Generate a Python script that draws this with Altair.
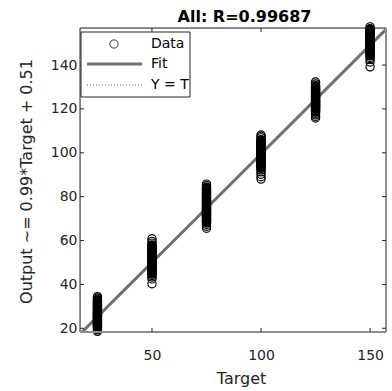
import altair as alt
import pandas as pd

# Regression of network outputs against targets (all samples)
targets = [25, 50, 75, 100, 125, 150]

out_25 = [18.6, 19.3, 19.9,
          20.4, 20.7, 20.9, 21.2, 21.4, 21.6, 21.9, 22.1, 22.3, 22.5, 22.8, 23.0,
          23.2, 23.4, 23.6, 23.8, 24.0, 24.2, 24.4, 24.6, 24.8, 25.0, 25.2, 25.4,
          25.6, 25.8, 26.0, 26.2, 26.4, 26.6, 26.8, 27.0, 27.2, 27.4, 27.6, 27.9,
          28.1, 28.3, 28.6, 28.8, 29.0, 29.3, 29.5, 29.8, 30.0, 30.3, 30.5, 30.8,
          31.1, 31.3, 31.6, 31.9, 32.2, 32.5, 32.8, 33.2,
          33.8, 34.4]
out_50 = [40.3, 42.5, 43.4, 44.1,
          44.7, 45.0, 45.3, 45.6, 45.8, 46.1, 46.3, 46.6, 46.8, 47.0, 47.2, 47.4,
          47.6, 47.8, 48.0, 48.2, 48.4, 48.6, 48.8, 49.0, 49.2, 49.4, 49.6, 49.8,
          50.0, 50.2, 50.4, 50.6, 50.8, 51.0, 51.2, 51.4, 51.6, 51.8, 52.0, 52.2,
          52.4, 52.7, 52.9, 53.1, 53.4, 53.6, 53.8, 54.1, 54.3, 54.6, 54.8, 55.1,
          55.4, 55.6, 55.9, 56.2, 56.5, 56.8, 57.1, 57.4, 57.7, 58.0,
          58.8, 59.6, 60.8]
out_75 = [65.6, 66.5, 67.3,
          68.0, 68.3, 68.6, 68.9, 69.1, 69.4, 69.6, 69.9, 70.1, 70.4, 70.6, 70.8,
          71.1, 71.3, 71.5, 71.7, 71.9, 72.1, 72.3, 72.5, 72.7, 72.9, 73.1, 73.3,
          73.5, 73.7, 73.9, 74.1, 74.3, 74.5, 74.7, 74.9, 75.1, 75.3, 75.5, 75.7,
          75.9, 76.1, 76.3, 76.6, 76.8, 77.0, 77.3, 77.5, 77.8, 78.0, 78.3, 78.5,
          78.8, 79.1, 79.3, 79.6, 79.9, 80.2, 80.5, 80.8, 81.1, 81.4, 81.7, 82.0,
          82.4, 82.7, 83.0, 83.3, 83.7, 84.0, 84.3,
          85.0, 85.7]
out_100 = [88.0, 89.1, 90.2, 91.3, 92.2,
           92.9, 93.2, 93.5, 93.8, 94.0, 94.3, 94.5, 94.8, 95.0, 95.2, 95.5, 95.7,
           95.9, 96.1, 96.3, 96.5, 96.7, 96.9, 97.1, 97.3, 97.5, 97.7, 97.9, 98.1,
           98.3, 98.5, 98.7, 98.9, 99.1, 99.3, 99.5, 99.7, 99.9, 100.1, 100.3,
           100.5, 100.7, 100.9, 101.1, 101.3, 101.5, 101.7, 101.9, 102.1, 102.4,
           102.6, 102.8, 103.1, 103.3, 103.6, 103.8, 104.1, 104.3, 104.6, 104.9,
           105.2, 105.5, 105.8, 106.0,
           106.8, 107.5, 108.1]
out_125 = [115.9, 116.6, 117.3, 118.0,
           118.6, 118.9, 119.2, 119.4, 119.7, 119.9, 120.2, 120.4, 120.6, 120.8,
           121.0, 121.2, 121.4, 121.6, 121.8, 122.0, 122.2, 122.4, 122.6, 122.8,
           123.0, 123.2, 123.4, 123.6, 123.8, 124.0, 124.2, 124.4, 124.6, 124.8,
           125.0, 125.2, 125.4, 125.6, 125.8, 126.0, 126.2, 126.4, 126.6, 126.9,
           127.1, 127.3, 127.6, 127.8, 128.1, 128.3, 128.6, 128.9, 129.1, 129.4,
           129.7, 130.0, 130.3, 130.6,
           131.4, 132.3]
out_150 = [139.2, 141.4, 142.6, 143.5,
           144.2, 144.5, 144.8, 145.1, 145.3, 145.6, 145.8, 146.1, 146.3, 146.6,
           146.8, 147.0, 147.3, 147.5, 147.7, 147.9, 148.1, 148.3, 148.5, 148.7,
           148.9, 149.1, 149.3, 149.5, 149.7, 149.9, 150.1, 150.3, 150.5, 150.7,
           150.9, 151.1, 151.3, 151.5, 151.7, 151.9, 152.1, 152.3, 152.5, 152.7,
           152.9, 153.1, 153.3, 153.6, 153.8, 154.0, 154.3, 154.5, 154.8, 155.0,
           155.3, 155.5, 155.8, 156.0, 156.3, 156.6,
           157.4]
outputs = [out_25, out_50, out_75, out_100, out_125, out_150]

slope = 0.99
intercept = 0.51
r_value = "0.99687"

x_domain = [17.0, 157.3]
y_domain = [18.3, 156.9]
x_ticks = [50, 100, 150]
y_ticks = [20, 40, 60, 80, 100, 120, 140]

legend_labels = ["Data", "Fit", "Y = T"]

W, H = 306, 304
FONT = "DejaVu Sans"
INK = "#262626"
EDGE = "#8f8f8f"
FIT_GREY = "#6f6f6f"

rows = []
for t, outs in zip(targets, outputs):
    rows += [{"t": t, "o": o} for o in outs]
points = pd.DataFrame(rows)

fit = pd.DataFrame({"t": x_domain})
fit["o"] = slope * fit["t"] + intercept
identity = pd.DataFrame({"t": x_domain, "o": x_domain})

x_scale = alt.Scale(domain=x_domain, nice=False, zero=False)
y_scale = alt.Scale(domain=y_domain, nice=False, zero=False)

x_axis = alt.Axis(
    values=x_ticks, title="Target", domain=False, ticks=False, tickSize=0,
    grid=False, labelPadding=16, labelFont=FONT, labelFontSize=14,
    labelColor=INK, labelFlush=False, titleFont=FONT, titleFontSize=16,
    titleFontWeight="normal", titleColor=INK, titleX=161, titleY=51.5,
    titleBaseline="alphabetic", titleAlign="center",
)
y_axis = alt.Axis(
    values=y_ticks, title=f"Output ~= {slope}*Target + {intercept}",
    domain=False, ticks=False, tickSize=0, grid=False, labelPadding=3,
    labelFont=FONT, labelFontSize=14, labelColor=INK, labelFlush=False,
    titleFont=FONT, titleFontSize=16, titleFontWeight="normal",
    titleColor=INK, titleX=-49, titleY=153, titleBaseline="alphabetic",
    titleAlign="center",
)

X = alt.X("t:Q", scale=x_scale, axis=x_axis)
Y = alt.Y("o:Q", scale=y_scale, axis=y_axis)

one = pd.DataFrame({"k": [0]})

identity_line = alt.Chart(identity).mark_line(
    color=FIT_GREY, strokeWidth=1, strokeDash=[1, 2], clip=True
).encode(x=X, y=Y)

fit_line = alt.Chart(fit).mark_line(
    color=FIT_GREY, strokeWidth=3, clip=True
).encode(x=X, y=Y)

data_points = alt.Chart(points).mark_point(
    shape="circle", filled=False, size=68, strokeWidth=1.15,
    color="black", opacity=1
).encode(x=X, y=Y)

# axes box
frame_left = alt.Chart(one).mark_rule(color=INK, strokeWidth=1).encode(
    x=alt.value(0), y=alt.value(0), y2=alt.value(H))
frame_top = alt.Chart(one).mark_rule(color=INK, strokeWidth=1).encode(
    x=alt.value(0), x2=alt.value(W), y=alt.value(0))
frame_bottom = alt.Chart(one).mark_rule(color=EDGE, strokeWidth=2).encode(
    x=alt.value(0), x2=alt.value(W), y=alt.value(H))
frame_right = alt.Chart(one).mark_rule(color=EDGE, strokeWidth=2).encode(
    x=alt.value(W), y=alt.value(0), y2=alt.value(H))

# inward ticks on all four sides
xt = pd.DataFrame({"t": x_ticks})
yt = pd.DataFrame({"o": y_ticks})
tick_bottom = alt.Chart(xt).mark_rule(color=INK, strokeWidth=1).encode(
    x=X, y=alt.value(H), y2=alt.value(H - 4))
tick_top = alt.Chart(xt).mark_rule(color=INK, strokeWidth=1).encode(
    x=X, y=alt.value(0), y2=alt.value(4))
tick_left = alt.Chart(yt).mark_rule(color=INK, strokeWidth=1).encode(
    y=Y, x=alt.value(0), x2=alt.value(4))
tick_right = alt.Chart(yt).mark_rule(color=INK, strokeWidth=1).encode(
    y=Y, x=alt.value(W), x2=alt.value(W - 4))

# legend
legend_box = alt.Chart(one).mark_rect(
    fill="white", stroke=INK, strokeWidth=1
).encode(x=alt.value(1), x2=alt.value(110), y=alt.value(4), y2=alt.value(69))
legend_marker = alt.Chart(one).mark_point(
    shape="circle", filled=False, size=68, strokeWidth=0.8, color="black", opacity=1
).encode(x=alt.value(34), y=alt.value(16))
legend_fit = alt.Chart(one).mark_rule(color=FIT_GREY, strokeWidth=3).encode(
    x=alt.value(7), x2=alt.value(62), y=alt.value(36))
legend_identity = alt.Chart(one).mark_rule(
    color=FIT_GREY, strokeWidth=1, strokeDash=[1, 2]
).encode(x=alt.value(7), x2=alt.value(62), y=alt.value(57))
legend_text = [
    alt.Chart(one).mark_text(
        text=label, font=FONT, fontSize=14, color="black",
        align="left", baseline="middle"
    ).encode(x=alt.value(71), y=alt.value(ypos))
    for label, ypos in zip(legend_labels, [16, 36, 57])
]

title = alt.Chart(one).mark_text(
    text=f"All: R={r_value}", font=FONT, fontSize=16, fontWeight="bold",
    color="black", align="center", baseline="alphabetic"
).encode(x=alt.value(164.5), y=alt.value(-6.3))

chart = alt.layer(
    identity_line, fit_line, data_points,
    frame_left, frame_top, frame_bottom, frame_right,
    tick_bottom, tick_top, tick_left, tick_right,
    legend_box, legend_marker, legend_fit, legend_identity, *legend_text,
    title,
).properties(
    width=W, height=H,
    padding={"left": 80, "top": 28, "right": 6, "bottom": 59},
    autosize=alt.AutoSizeParams(type="none"),
).configure_view(stroke=None).configure(background="white")

chart.save("out.html", embed_options={"renderer": "svg", "actions": False})
